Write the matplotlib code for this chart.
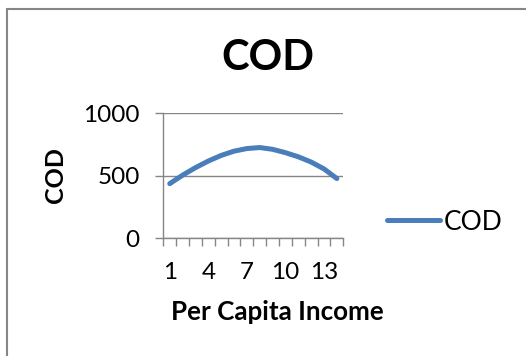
import numpy as np
import matplotlib
matplotlib.use("Agg")
import matplotlib.pyplot as plt
from matplotlib.patches import Rectangle
from matplotlib.ticker import FixedLocator

plt.rcParams['font.family'] = ['Lato', 'DejaVu Sans']

# COD against per-capita-income category
income_idx = list(range(1, 15))
cod = [437, 505, 565, 618, 663, 697, 718, 726, 712, 685, 652, 610, 555, 478]
xtick_labels = ['1', '4', '7', '10', '13']
ytick_vals = [0, 500, 1000]

W, H = 526, 356
fig = plt.figure(figsize=(W / 100, H / 100), dpi=100)

grey = '#868686'
blue = '#4A7EBB'

# outer chart frame (runs off the right and bottom edges)
fig.patches.append(Rectangle((6.5 / W, -0.1), 1.2, 1 - 8.5 / H + 0.1,
                             transform=fig.transFigure, fill=False,
                             edgecolor=grey, linewidth=1.5))

ax = fig.add_axes([163.3 / W, (H - 238.3) / H, 180 / W, 125 / H])
line, = ax.plot(income_idx, cod, color=blue, linewidth=3.6,
                solid_capstyle='round', solid_joinstyle='round', label='COD')

ax.set_xlim(0.5, 14.5)
ax.set_ylim(0, 1000)

ax.set_xticks([1, 4, 7, 10, 13])
ax.set_xticklabels(xtick_labels)
ax.xaxis.set_minor_locator(FixedLocator(np.arange(0.5, 15, 1)))
ax.tick_params(axis='x', which='major', length=0, pad=17, labelsize=17.5)
ax.tick_params(axis='x', which='minor', length=5.5, width=1, color=grey,
               direction='out')

ax.set_yticks(ytick_vals)
ax.tick_params(axis='y', length=6, width=1, color=grey, direction='out',
               pad=11, labelsize=17.5)
ax.yaxis.grid(True, color=grey, linewidth=1)
ax.set_axisbelow(True)

for s in ['top', 'right']:
    ax.spines[s].set_visible(False)
for s in ['left', 'bottom']:
    ax.spines[s].set_color(grey)
    ax.spines[s].set_linewidth(1)

fig.text(268 / W, 1 - 70 / H, 'COD', ha='center', va='baseline',
         fontsize=30, fontweight='bold')
fig.text(277.5 / W, 1 - 320 / H, 'Per Capita Income', ha='center',
         va='baseline', fontsize=18.7, fontweight='bold')
fig.text(56 / W, 1 - 175.5 / H, 'COD', ha='center', va='center',
         rotation=90, fontsize=18, fontweight='bold')

fig.legend(handles=[line], loc='center left',
           bbox_to_anchor=(387 / W, 1 - 222 / H), frameon=False,
           fontsize=19, handlelength=2.0, handletextpad=0.15,
           borderpad=0, borderaxespad=0)

fig.savefig('out.png', dpi=100)
